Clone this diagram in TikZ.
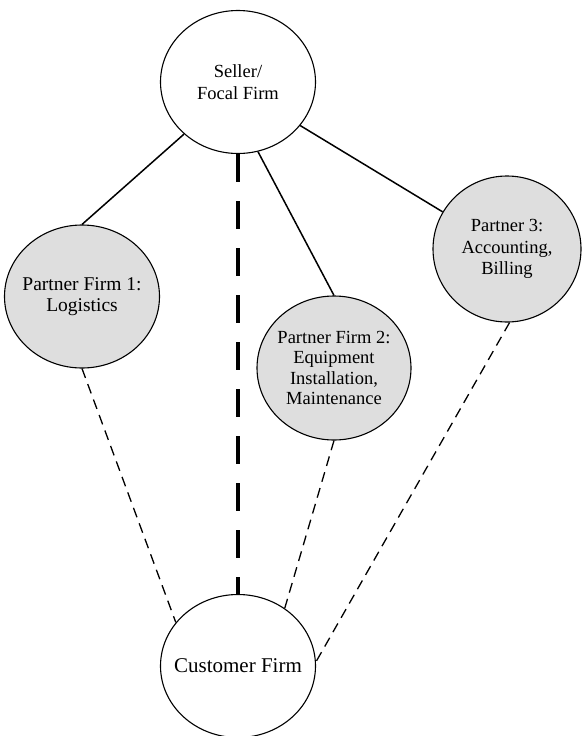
\documentclass[tikz,border=0pt]{standalone}
\usepackage{fontspec}
\setmainfont{Liberation Serif}
\usetikzlibrary{shapes.geometric}
\tikzset{
  firm/.style={ellipse, draw=black, line width=1.1pt, inner sep=0pt,
    minimum width=155pt, minimum height=143pt},
  white firm/.style={firm, fill=white},
  grey firm/.style={firm, fill=black!13},
  firmtext/.style={align=center, inner sep=0pt},
  tie/.style={line width=1.5pt},
  mainlink/.style={line width=3.8pt, dash pattern=on 28pt off 19pt},
  custlink/.style={line width=1.3pt, dash pattern=on 10pt off 6.5pt},
}
\begin{document}
\begin{tikzpicture}[x=1pt,y=-1pt]
\useasboundingbox (0,0) rectangle (581,736);
\node[white firm, label={[firmtext, font=\fontsize{18.5}{21.5}\selectfont]center:Seller/\\Focal Firm}] (seller) at (238,82) {};
\node[grey firm, label={[firmtext, font=\fontsize{19.5}{21.5}\selectfont]center:Partner Firm 1:\\Logistics}] (p1) at (82,296.5) {};
\node[grey firm, minimum width=154pt, minimum height=144pt, label={[firmtext, font=\fontsize{18.5}{20.5}\selectfont]center:Partner Firm 2:\\Equipment\\Installation,\\Maintenance}] (p2) at (334,368) {};
\node[grey firm, minimum width=148pt, minimum height=146pt, label={[firmtext, font=\fontsize{18.5}{21.5}\selectfont]center:Partner 3:\\Accounting,\\Billing}] (p3) at (507,249) {};
\node[white firm, label={[firmtext, font=\fontsize{21}{24}\selectfont]center:Customer Firm}] (cust) at (238,666) {};

\draw[tie] (seller.224) -- (p1.north);
\draw[tie] (seller.286) -- (p2.north);
\draw[tie] (seller.325) -- (p3.150);
\draw[mainlink] (seller.south) -- (cust.north);
\draw[custlink] (p1.south) -- (cust.145);
\draw[custlink] (p2.south) -- (cust.51);
\draw[custlink] (p3.272) -- (cust.3);
\end{tikzpicture}
\end{document}
